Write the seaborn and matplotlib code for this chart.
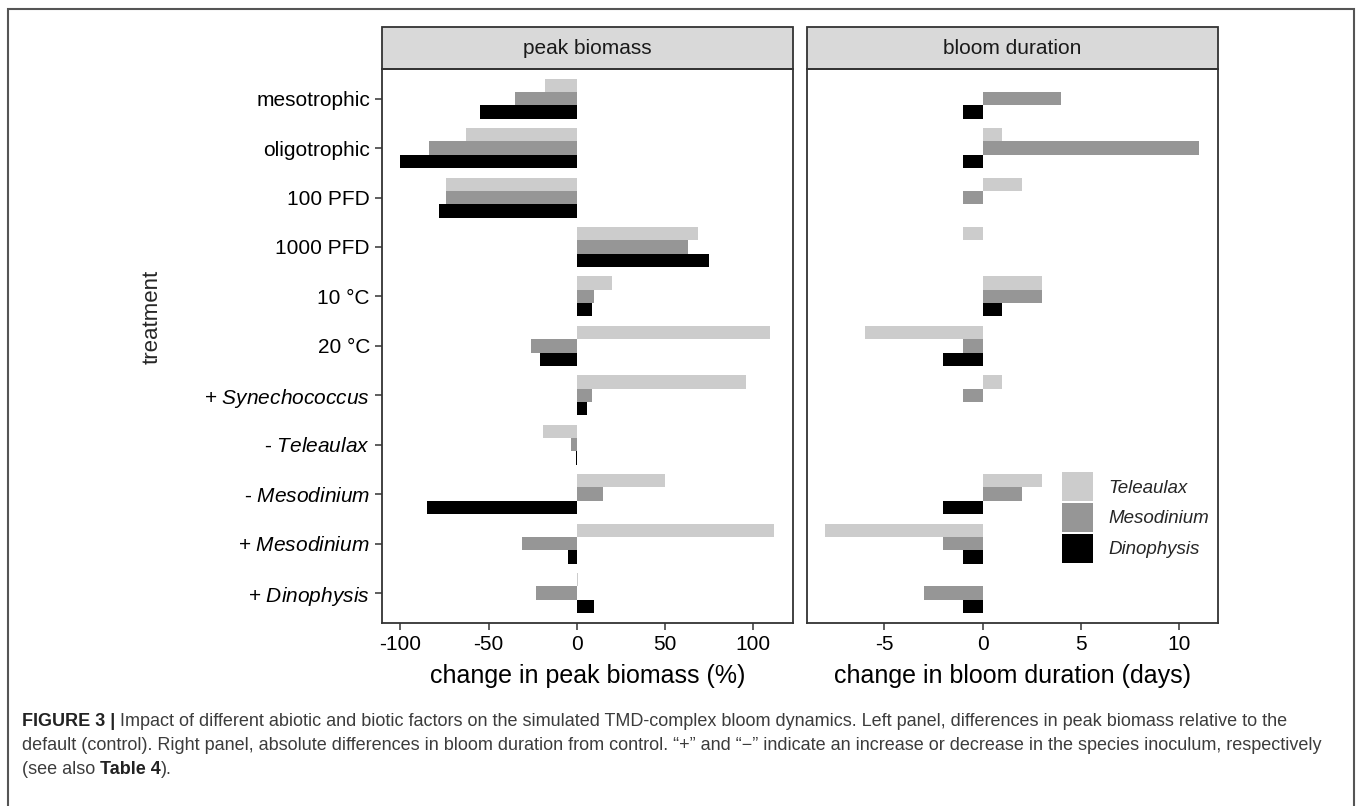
import matplotlib
matplotlib.use('Agg')
import matplotlib.pyplot as plt
from matplotlib.patches import Rectangle
import seaborn as sns
import pandas as pd

# --- data ---
treatments = ['mesotrophic', 'oligotrophic', '100 PFD', '1000 PFD', '10 °C', '20 °C',
              '+ Synechococcus', '- Teleaulax', '- Mesodinium', '+ Mesodinium', '+ Dinophysis']
tick_labels = ['mesotrophic', 'oligotrophic', '100 PFD', '1000 PFD', '10 °C', '20 °C',
               r'+ $\mathit{Synechococcus}$', r'- $\mathit{Teleaulax}$', r'- $\mathit{Mesodinium}$',
               r'+ $\mathit{Mesodinium}$', r'+ $\mathit{Dinophysis}$']
species = ['Teleaulax', 'Mesodinium', 'Dinophysis']
colors = ['#CCCCCC', '#969696', '#000000']

# change in peak biomass (%)
biomass_tel = [-18, -63, -74, 69, 20, 110, 96, -19, 50, 112, 1]
biomass_mes = [-35, -84, -74, 63, 10, -26, 9, -3, 15, -31, -23]
biomass_din = [-55, -100, -78, 75, 8.5, -21, 6, -0.6, -85, -5, 10]

# change in bloom duration (days)
duration_tel = [0, 1, 2, -1, 3, -6, 1, 0, 3, -8, 0]
duration_mes = [4, 11, -1, 0, 3, -1, -1, 0, 2, -2, -3]
duration_din = [-1, -1, 0, 0, 1, -2, 0, 0, -2, -1, -1]


def long_df(tel, mes, din):
    rows = []
    for sp, vals in zip(species, [tel, mes, din]):
        for tr, v in zip(treatments, vals):
            rows.append({'treatment': tr, 'species': sp, 'value': v})
    return pd.DataFrame(rows)


df_biomass = long_df(biomass_tel, biomass_mes, biomass_din)
df_duration = long_df(duration_tel, duration_mes, duration_din)

sns.set_style('white')
plt.rcParams['font.family'] = ['Liberation Sans', 'DejaVu Sans']
plt.rcParams['mathtext.fontset'] = 'custom'
plt.rcParams['mathtext.rm'] = 'Liberation Sans'
plt.rcParams['mathtext.it'] = 'Liberation Sans:italic'
plt.rcParams['axes.unicode_minus'] = False

W, H = 1357, 806
fig = plt.figure(figsize=(W / 100, H / 100), dpi=100)
panel_top, panel_bot = 69, 622.7
ax1 = fig.add_axes([381.7 / W, 1 - panel_bot / H, 411 / W, (panel_bot - panel_top) / H])
ax2 = fig.add_axes([806.7 / W, 1 - panel_bot / H, 411 / W, (panel_bot - panel_top) / H])

dark = '#333333'
strip_h = (panel_top - 27.3) / (panel_bot - panel_top)

for ax, df, title, xlab in [(ax1, df_biomass, 'peak biomass', 'change in peak biomass (%)'),
                            (ax2, df_duration, 'bloom duration', 'change in bloom duration (days)')]:
    sns.barplot(data=df, x='value', y='treatment', hue='species', order=treatments,
                hue_order=species, palette=colors, orient='h', width=0.81,
                linewidth=0, errorbar=None, ax=ax, legend=(ax is ax2))
    lo, hi = df['value'].min(), df['value'].max()
    pad = 0.05 * (hi - lo)
    ax.set_xlim(lo - pad, hi + pad)
    ax.set_ylim(len(treatments) - 0.4, -0.6)
    ax.set_ylabel('')
    ax.set_xlabel(xlab, fontsize=18, color='black', labelpad=7)
    for s in ax.spines.values():
        s.set_visible(True)
        s.set_color(dark)
        s.set_linewidth(1.3)
    ax.tick_params(axis='x', bottom=True, length=5, width=1.1, color=dark,
                   labelsize=15, labelcolor='black', pad=4)
    # strip on top
    ax.add_patch(Rectangle((0, 1), 1, strip_h, transform=ax.transAxes, clip_on=False,
                           facecolor='#D9D9D9', edgecolor=dark, linewidth=1.3))
    ax.text(0.5, 1 + strip_h / 2, title, transform=ax.transAxes, ha='center', va='center',
            fontsize=15, color='#1A1A1A')

ax1.set_xticks([-100, -50, 0, 50, 100])
ax2.set_xticks([-5, 0, 5, 10])
ax1.set_yticks(range(len(treatments)))
ax1.set_yticklabels(tick_labels)
ax1.tick_params(axis='y', left=True, length=5, width=1.1, color=dark,
                labelsize=15, labelcolor='black', pad=3.5)
ax2.tick_params(axis='y', left=False, labelleft=False)

handles, labels = ax2.get_legend_handles_labels()
ax2.legend(handles, labels, loc='center', bbox_to_anchor=(0.80, 0.19), frameon=False,
           prop={'style': 'italic', 'size': 13.5}, handlelength=1.65, handleheight=2.0,
           labelspacing=0.1, handletextpad=0.85, borderpad=0)

fig.text(152 / W, 1 - 317 / H, 'treatment', rotation=90, ha='center', va='center', fontsize=16)

# outer frame
fig.add_artist(Rectangle((8 / W, -0.01), (1354 - 8) / W, 1 - 9 / H + 0.01,
                         transform=fig.transFigure, fill=False, edgecolor='#555555', linewidth=1.5))

# caption (condensed font not available -> size chosen so line 1 spans the same width)
cap_font = ['Liberation Sans', 'DejaVu Sans']
renderer = fig.canvas.get_renderer()
line1 = [('FIGURE 3 |', True),
         (' Impact of different abiotic and biotic factors on the simulated TMD-complex bloom '
          'dynamics. Left panel, differences in peak biomass relative to the', False)]
line2 = [('default (control). Right panel, absolute differences in bloom duration from control. '
          '\u201c+\u201d and \u201c\u2212\u201d indicate an increase or decrease in the species '
          'inoculum, respectively', False)]
line3 = [('(see also ', False), ('Table 4', True), (').', False)]


def caption_line(y_px, parts, fs):
    x = 22 / W
    made = []
    for txt, bold in parts:
        t = fig.text(x, 1 - y_px / H, txt, fontsize=fs, family=cap_font,
                     fontweight='bold' if bold else 'normal',
                     color='#222222' if bold else '#3C3C3C', va='center', ha='left')
        made.append(t)
        x = t.get_window_extent(renderer).x1 / W
    return made, x * W


probe, x_end = caption_line(721, line1, 12)
for t in probe:
    t.remove()
cap_fs = 12 * (1290 - 22) / (x_end - 22)

caption_line(721, line1, cap_fs)
caption_line(745, line2, cap_fs)
caption_line(769, line3, cap_fs)

fig.savefig('out.png', dpi=100)
